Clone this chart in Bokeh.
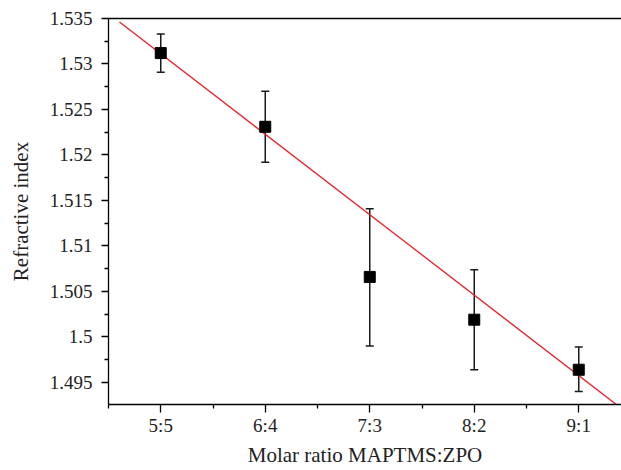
from bokeh.plotting import figure
from bokeh.models import (ColumnDataSource, Whisker, TeeHead, FixedTicker,
                          CustomJSTickFormatter, LinearAxis)
from bokeh.embed import file_html
from bokeh.resources import INLINE

# ---- data ----
categories = ["5:5", "6:4", "7:3", "8:2", "9:1"]
x_pos = [1, 2, 3, 4, 5]
refractive_index = [1.5312, 1.5231, 1.5066, 1.5019, 1.4964]
err_upper = [1.5333, 1.5270, 1.5141, 1.5074, 1.4989]
err_lower = [1.5291, 1.5192, 1.4990, 1.4964, 1.4940]
fit_slope = -0.00884
fit_intercept = 1.53996
fit_x = [0.605, 5.45]
y_ticks = [1.495, 1.5, 1.505, 1.51, 1.515, 1.52, 1.525, 1.53, 1.535]
y_minor = [1.4925, 1.4975, 1.5025, 1.5075, 1.5125, 1.5175, 1.5225, 1.5275, 1.5325]
x_minor = [0.5, 1.5, 2.5, 3.5, 4.5]

FONT = "Liberation Serif"

p = figure(width=621, height=470, output_backend="svg", toolbar_location=None,
           x_range=(0.5, 5.409), y_range=(1.49258, 1.535),
           min_border_left=108, min_border_right=0, min_border_top=18,
           min_border_bottom=66)
p.outline_line_color = None
p.grid.visible = False
p.background_fill_color = "white"
p.border_fill_color = "white"

src = ColumnDataSource(dict(x=x_pos, y=refractive_index, up=err_upper, lo=err_lower))
fit_y = [fit_intercept + fit_slope * v for v in fit_x]
p.line(fit_x, fit_y, line_color="#e8202a", line_width=1.3)

w = Whisker(base="x", upper="up", lower="lo", source=src,
            line_color="#1a1a1a", line_width=1.5,
            upper_head=TeeHead(size=8, line_color="#1a1a1a", line_width=1.5),
            lower_head=TeeHead(size=8, line_color="#1a1a1a", line_width=1.5))
p.add_layout(w)
p.scatter("x", "y", source=src, marker="square", size=11, color="black")

# axes
for ax in (p.xaxis[0], p.yaxis[0]):
    ax.axis_line_color = "black"
    ax.axis_line_width = 1.3
    ax.major_tick_line_color = "black"
    ax.minor_tick_line_color = "black"
    ax.major_tick_line_width = 1.3
    ax.minor_tick_line_width = 1.3
    ax.major_tick_in = 0
    ax.minor_tick_in = 0
    ax.major_label_text_font = FONT
    ax.major_label_text_font_size = "19px"
    ax.major_label_text_color = "#222222"
    ax.axis_label_text_font = FONT
    ax.axis_label_text_font_size = "21px"
    ax.axis_label_text_font_style = "normal"
    ax.axis_label_text_color = "#222222"

p.xaxis.ticker = FixedTicker(ticks=x_pos, minor_ticks=x_minor)
p.xaxis.major_label_overrides = {x: c for x, c in zip(x_pos, categories)}
p.xaxis.major_tick_out = 8
p.xaxis.minor_tick_out = 4
p.xaxis.major_label_standoff = 2
p.xaxis.axis_label = "Molar ratio MAPTMS:ZPO"
p.xaxis.axis_label_standoff = 4

p.yaxis.ticker = FixedTicker(ticks=y_ticks, minor_ticks=y_minor)
p.yaxis.formatter = CustomJSTickFormatter(
    code="return tick.toFixed(3).replace(/0+$/, '').replace(/\\.$/, '');")
p.yaxis.major_tick_out = 7
p.yaxis.minor_tick_out = 4
p.yaxis.major_label_standoff = 9
p.yaxis.axis_label = "Refractive index"
p.yaxis.axis_label_standoff = 14

top = LinearAxis(axis_line_color="black", axis_line_width=1.3,
                 ticker=FixedTicker(ticks=[], minor_ticks=[]),
                 major_tick_line_color=None, minor_tick_line_color=None,
                 major_label_standoff=0, major_tick_out=0, minor_tick_out=0)
p.add_layout(top, "above")

open("out.html", "w").write(file_html(p, INLINE))
